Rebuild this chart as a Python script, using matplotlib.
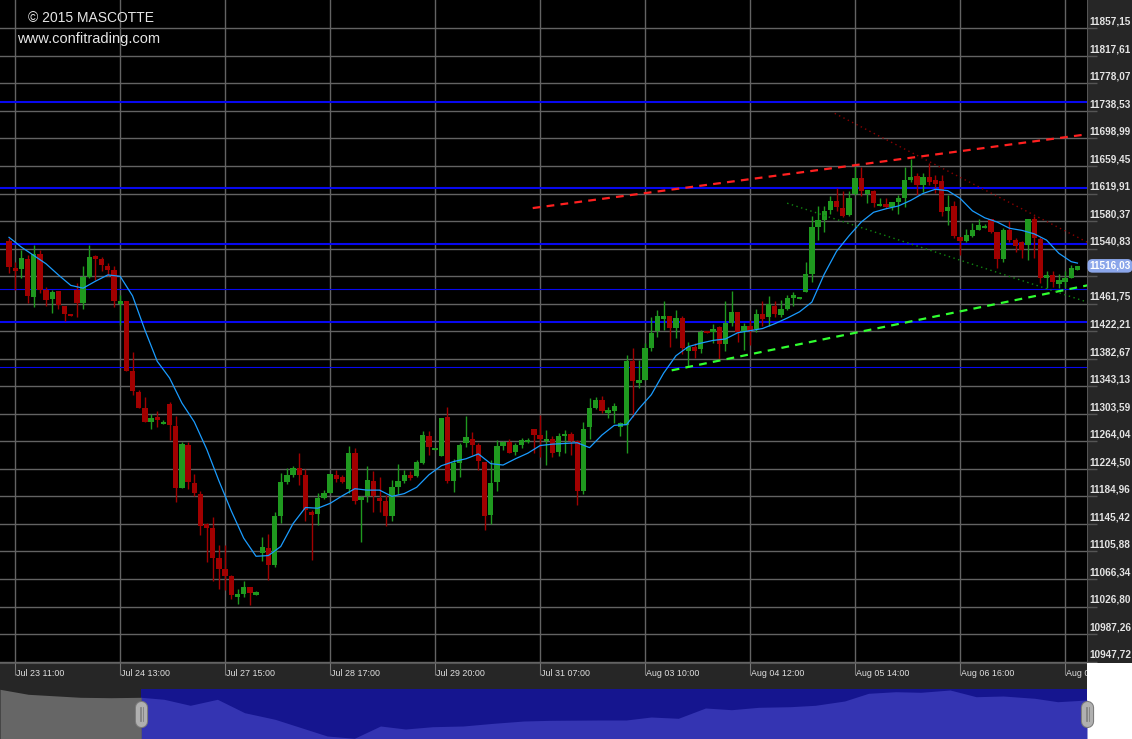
import numpy as np
import matplotlib
matplotlib.use("Agg")
import matplotlib.pyplot as plt
import matplotlib.transforms as mtransforms
from matplotlib.lines import Line2D

# hourly candles, Jul 23 -> Aug 07
opens = [11552, 11513, 11512, 11526, 11472, 11533, 11481, 11468, 11480, 11458,
         11447, 11481, 11463, 11500, 11530, 11526, 11516, 11510, 11461, 11466,
         11365, 11335, 11312, 11292, 11299, 11289, 11318, 11286, 11197, 11259,
         11204, 11189, 11145, 11140, 11097, 11081, 11070, 11041, 11045, 11055,
         11044, 11104, 11111, 11087, 11157, 11206, 11216, 11226, 11216, 11163,
         11160, 11183, 11190, 11216, 11213, 11196, 11247, 11180, 11186, 11207,
         11183, 11178, 11157, 11198, 11207, 11216, 11214, 11233, 11272, 11252,
         11243, 11299, 11207, 11233, 11261, 11268, 11259, 11235, 11158, 11205,
         11257, 11263, 11249, 11259, 11263, 11282, 11273, 11264, 11268, 11249,
         11271, 11275, 11264, 11193, 11284, 11312, 11323, 11305, 11308, 11285,
         11288, 11379, 11348, 11352, 11398, 11422, 11440, 11444, 11427, 11441,
         11394, 11399, 11396, 11422, 11421, 11428, 11404, 11434, 11450, 11421,
         11430, 11425, 11447, 11442, 11459, 11445, 11454, 11470, 11469, 11479,
         11504, 11572, 11582, 11596, 11609, 11599, 11589, 11619, 11642, 11619,
         11623, 11602, 11605, 11600, 11608, 11614, 11639, 11645, 11632, 11643,
         11639, 11638, 11595, 11602, 11558, 11552, 11559, 11567, 11570, 11583,
         11564, 11526, 11568, 11553, 11550, 11546, 11583, 11555, 11498, 11503,
         11490, 11493, 11499, 11510]
highs = [11556, 11522, 11539, 11532, 11546, 11539, 11486, 11481, 11480, 11458,
         11447, 11491, 11516, 11546, 11532, 11529, 11520, 11516, 11474, 11466,
         11393, 11338, 11327, 11303, 11308, 11295, 11320, 11300, 11263, 11263,
         11217, 11193, 11147, 11155, 11115, 11115, 11072, 11052, 11064, 11055,
         11049, 11126, 11131, 11163, 11219, 11226, 11229, 11248, 11224, 11165,
         11190, 11194, 11217, 11223, 11216, 11257, 11254, 11185, 11229, 11221,
         11213, 11187, 11208, 11232, 11223, 11221, 11237, 11279, 11279, 11254,
         11298, 11314, 11238, 11261, 11300, 11278, 11261, 11235, 11237, 11266,
         11265, 11267, 11261, 11269, 11269, 11282, 11302, 11280, 11272, 11276,
         11280, 11278, 11266, 11292, 11326, 11328, 11329, 11314, 11319, 11292,
         11388, 11398, 11381, 11405, 11443, 11453, 11465, 11444, 11453, 11444,
         11407, 11405, 11424, 11422, 11432, 11429, 11466, 11480, 11450, 11434,
         11438, 11454, 11466, 11473, 11466, 11467, 11474, 11479, 11472, 11522,
         11587, 11602, 11602, 11616, 11628, 11624, 11624, 11658, 11658, 11625,
         11625, 11614, 11613, 11608, 11618, 11658, 11669, 11649, 11649, 11664,
         11646, 11646, 11618, 11609, 11558, 11569, 11577, 11583, 11576, 11584,
         11564, 11570, 11580, 11556, 11552, 11583, 11587, 11558, 11509, 11509,
         11504, 11509, 11517, 11515]
lows = [11506, 11481, 11499, 11463, 11457, 11477, 11458, 11448, 11454, 11437,
        11444, 11443, 11454, 11499, 11496, 11509, 11502, 11457, 11431, 11365,
        11330, 11312, 11292, 11282, 11285, 11289, 11266, 11177, 11197, 11196,
        11185, 11129, 11091, 11064, 11052, 11050, 11038, 11030, 11041, 11029,
        11044, 11092, 11065, 11083, 11147, 11203, 11213, 11201, 11149, 11094,
        11144, 11181, 11190, 11206, 11204, 11190, 11174, 11120, 11177, 11163,
        11162, 11142, 11150, 11188, 11204, 11208, 11213, 11232, 11244, 11252,
        11243, 11204, 11192, 11213, 11256, 11244, 11223, 11137, 11146, 11193,
        11251, 11248, 11244, 11255, 11261, 11247, 11242, 11230, 11241, 11243,
        11247, 11244, 11172, 11188, 11267, 11311, 11305, 11297, 11291, 11271,
        11248, 11299, 11340, 11352, 11394, 11414, 11424, 11400, 11412, 11389,
        11371, 11383, 11391, 11419, 11405, 11382, 11394, 11429, 11406, 11395,
        11402, 11421, 11429, 11430, 11443, 11442, 11453, 11459, 11469, 11479,
        11493, 11553, 11564, 11590, 11595, 11586, 11587, 11618, 11616, 11606,
        11601, 11602, 11599, 11596, 11591, 11601, 11637, 11618, 11622, 11632,
        11620, 11588, 11574, 11556, 11532, 11551, 11558, 11567, 11570, 11563,
        11513, 11521, 11551, 11536, 11527, 11524, 11527, 11492, 11484, 11486,
        11484, 11486, 11498, 11510]
closes = [11515, 11509, 11527, 11473, 11533, 11482, 11467, 11478, 11460, 11447,
          11444, 11463, 11500, 11529, 11526, 11517, 11510, 11466, 11466, 11365,
          11337, 11312, 11292, 11298, 11294, 11292, 11287, 11197, 11260, 11206,
          11190, 11143, 11140, 11097, 11081, 11070, 11043, 11045, 11055, 11046,
          11047, 11112, 11087, 11157, 11206, 11216, 11226, 11216, 11165, 11158,
          11183, 11190, 11217, 11210, 11206, 11247, 11179, 11184, 11209, 11186,
          11178, 11157, 11198, 11207, 11216, 11212, 11234, 11273, 11256, 11254,
          11298, 11207, 11233, 11259, 11270, 11259, 11236, 11157, 11204, 11257,
          11263, 11248, 11259, 11266, 11266, 11273, 11267, 11268, 11248, 11271,
          11275, 11265, 11193, 11282, 11312, 11323, 11308, 11309, 11315, 11290,
          11379, 11351, 11352, 11398, 11420, 11444, 11444, 11427, 11441, 11398,
          11399, 11394, 11421, 11419, 11425, 11404, 11434, 11450, 11421, 11429,
          11423, 11447, 11440, 11461, 11447, 11454, 11470, 11474, 11472, 11504,
          11572, 11582, 11595, 11609, 11600, 11588, 11614, 11642, 11623, 11625,
          11606, 11605, 11600, 11608, 11613, 11640, 11643, 11632, 11643, 11637,
          11633, 11594, 11601, 11559, 11552, 11560, 11567, 11575, 11573, 11564,
          11526, 11567, 11553, 11545, 11539, 11583, 11556, 11498, 11503, 11493,
          11496, 11499, 11513, 11516.03]

# blue moving average, read every second bar
ma_bar = list(range(0, 173, 2)) + [173]
ma_vals = [11557, 11543, 11531, 11519, 11503, 11488, 11484, 11494, 11503, 11501,
           11473, 11424, 11379, 11355, 11319, 11292, 11253, 11207, 11164, 11125,
           11099, 11100, 11113, 11146, 11169, 11168, 11175, 11186, 11196, 11194,
           11194, 11185, 11189, 11198, 11216, 11229, 11235, 11239, 11246, 11232,
           11230, 11239, 11247, 11258, 11260, 11261, 11262, 11255, 11273, 11287,
           11288, 11311, 11331, 11362, 11387, 11400, 11405, 11409, 11411, 11420,
           11423, 11426, 11433, 11441, 11450, 11464, 11504, 11537, 11559, 11579,
           11593, 11598, 11602, 11610, 11620, 11626, 11624, 11613, 11595, 11585,
           11579, 11570, 11567, 11562, 11553, 11534, 11522, 11520]

price_ticks = [11857.15, 11817.61, 11778.07, 11738.53, 11698.99, 11659.45,
               11619.91, 11580.37, 11540.83, 11501.29, 11461.75, 11422.21,
               11382.67, 11343.13, 11303.59, 11264.04, 11224.50, 11184.96,
               11145.42, 11105.88, 11066.34, 11026.80, 10987.26, 10947.72]
last_price = 11516.03

time_bars = [1, 18, 35, 52, 69, 86, 103, 120, 137, 154, 171]
time_labels = ["Jul 23 11:00", "Jul 24 13:00", "Jul 27 15:00", "Jul 28 17:00",
               "Jul 29 20:00", "Jul 31 07:00", "Aug 03 10:00", "Aug 04 12:00",
               "Aug 05 14:00", "Aug 06 16:00", "Aug 07 09:00"]

# drawn support / resistance levels
levels_thick = [11750.9, 11627.4, 11547.0, 11435.0]
levels_thin = [11482.4, 11370.8]

# trend lines: (bar0, bar1), (price0, price1)
red_trend = ([84.8, 174.6], [11599, 11705])
green_trend = ([107.3, 174.6], [11366, 11488])
red_channel = ([133.7, 174.6], [11735, 11550])
green_channel = ([126.0, 174.6], [11606, 11464])

# navigator overview (percent of history, level)
nav_pos = [0, 2.6, 7.4, 10.2, 13.0, 15.1, 17.5, 20.0, 22.5, 25.3, 27.6, 30.1,
           32.6, 35.0, 37.3, 39.8, 42.6, 45.4, 48.2, 50.7, 55.2, 57.6, 59.9,
           62.4, 64.9, 67.3, 69.8, 72.7, 75.0, 77.7, 79.9, 82.4, 84.7, 87.4,
           89.8, 92.3, 95.2, 97.3, 100]
nav_level = [49.7, 44.7, 41.7, 41.3, 41.7, 39.7, 33.7, 39.7, 26.3, 19.7, 11.7,
             3.0, 0.7, 13.0, 10.0, 12.3, 13.0, 15.7, 18.0, 18.7, 19.0, 19.0,
             22.0, 20.7, 31.0, 29.3, 31.7, 32.3, 33.7, 38.0, 45.7, 47.3, 46.7,
             49.0, 42.3, 43.0, 40.7, 37.3, 39.0]
nav_window = 13.0

W, H = 1132, 739
fig = plt.figure(figsize=(W / 100, H / 100), dpi=100, facecolor='white')


def px_axes(x0, y0, x1, y1, **kw):
    return fig.add_axes([x0 / W, 1 - y1 / H, (x1 - x0) / W, (y1 - y0) / H], **kw)


ymax = 11897.8
ymin = ymax - 663 * 1.436
xlo, xhi = -1.457, 174.55

ax = px_axes(0, 0, 1087, 663, facecolor='black')
ax.set_xlim(xlo, xhi)
ax.set_ylim(ymin, ymax)
ax.set_xticks([])
ax.set_yticks([])
for s in ax.spines.values():
    s.set_visible(False)

for v in price_ticks:
    ax.axhline(v, color='#636363', lw=1.0, zorder=1)
for b in time_bars:
    ax.axvline(b, color='#636363', lw=1.0, zorder=1)

for v in levels_thick:
    ax.axhline(v, color='#0808f0', lw=1.5, zorder=2)
for v in levels_thin:
    ax.axhline(v, color='#0808f0', lw=0.8, zorder=2)

o, h, l, c = map(np.array, (opens, highs, lows, closes))
idx = np.arange(len(c))
col = np.where(c >= o, '#1f991f', '#a10000')
ax.vlines(idx, l, h, colors=col, lw=1.0, zorder=3)
ax.bar(idx, np.maximum(np.abs(c - o), 2.5), 0.86, bottom=np.minimum(o, c),
       color=col, lw=0, zorder=4)

ax.plot(ma_bar, ma_vals, color='#1a9cff', lw=0.9, zorder=5)

ax.plot(*red_trend, color='#ff2020', lw=1.6, dashes=(3.5, 2.8), zorder=6)
ax.plot(*green_trend, color='#30ff30', lw=1.6, dashes=(3.5, 2.8), zorder=6)
ax.plot(*red_channel, color='#8a0000', lw=1.0, dashes=(1, 2.5), zorder=6)
ax.plot(*green_channel, color='#118811', lw=1.0, dashes=(1, 2.5), zorder=6)

fig.text(28 / W, 1 - 18 / H, "\u00a9 2015 MASCOTTE", fontsize=10, color='#e6e6e6',
         family='Liberation Sans', va='center', ha='left')
fig.text(17 / W, 1 - 38.5 / H, "www.confitrading.com", fontsize=10.5, color='#e6e6e6',
         family='Liberation Sans', va='center', ha='left')

# price axis panel
axp = px_axes(1087, 0, 1132, 663, facecolor='#262626')
axp.set_xlim(0, 1)
axp.set_ylim(ymin, ymax)
axp.set_xticks([])
axp.set_yticks([])
for s in axp.spines.values():
    s.set_visible(False)
axp.axvline(0, color='#555555', lw=1.5)
lab_tr = mtransforms.offset_copy(axp.transData, fig=fig, x=0, y=6.7, units='dots')
for v in price_ticks:
    axp.hlines(v, 0, 0.22, color='#555555', lw=1.0)
    if abs(v - last_price) < 20:
        continue
    axp.text(0.06, v, f"{v:.2f}".replace('.', ','), transform=lab_tr, fontsize=7.2,
             fontweight='bold', family='Liberation Sans', color='#e4e4e4',
             va='center', ha='left')
axp.text(0.51, last_price, f"{last_price:.2f}".replace('.', ','), fontsize=7.2,
         fontweight='bold', family='Liberation Sans', color='white', va='center',
         ha='center', zorder=10,
         bbox=dict(boxstyle='round,pad=0.18,rounding_size=0.5', fc='#8ba6ea', ec='none'))

# time axis strip
axs = px_axes(0, 663, 1087, 689, facecolor='#262626')
axs.set_xlim(xlo, xhi)
axs.set_ylim(0, 1)
axs.set_xticks([])
axs.set_yticks([])
for s in axs.spines.values():
    s.set_visible(False)
axs.axhline(1, color='#555555', lw=1.5)
axs.vlines(time_bars, 0.55, 1, color='#777777', lw=0.8)
for b, t in zip(time_bars, time_labels):
    axs.text(b + 0.1, 0.6, t, fontsize=6.4, color='#e0e0e0', family='Liberation Sans',
             va='center', ha='left', clip_on=True)

# navigator
axn = px_axes(0, 689, 1087, 739, facecolor='#15158f')
axn.set_xlim(0, 100)
axn.set_ylim(0, 50)
axn.set_xticks([])
axn.set_yticks([])
for s in axn.spines.values():
    s.set_visible(False)
axn.axvspan(0, nav_window, color='#262626', lw=0, zorder=0)
npos = np.array(nav_pos)
nlev = np.array(nav_level)
axn.fill_between(npos, 0, nlev, where=npos >= nav_window, color='#3434b2', lw=0, zorder=1)
axn.fill_between(npos, 0, nlev, where=npos <= nav_window, color='#666666', lw=0, zorder=1)

for hx in (141, 1087):
    fx = hx / W
    fig.add_artist(Line2D([fx, fx], [1 - 707 / H, 1 - 721 / H], transform=fig.transFigure,
                          lw=9.5, color='#7a7a7a', solid_capstyle='round'))
    fig.add_artist(Line2D([fx, fx], [1 - 707 / H, 1 - 721 / H], transform=fig.transFigure,
                          lw=8.0, color='#b0b0b0', solid_capstyle='round'))
    for dx in (-1.5, 0, 1.5):
        fig.add_artist(Line2D([(hx + dx) / W] * 2, [1 - 707 / H, 1 - 721 / H],
                              transform=fig.transFigure, lw=0.6, color='#808080'))

fig.savefig('out.png', dpi=100, facecolor='white')
